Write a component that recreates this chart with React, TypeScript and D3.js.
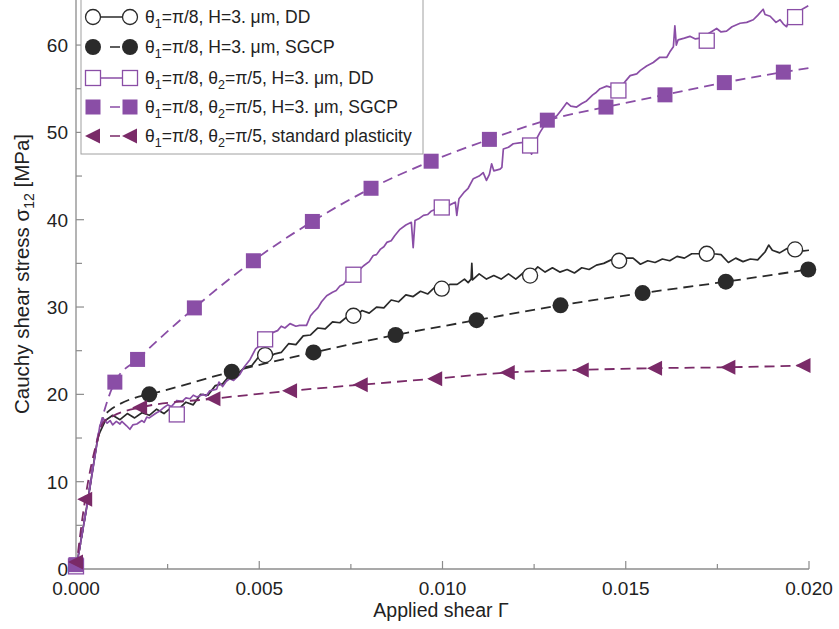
import React, { useEffect } from 'react';
import * as d3 from 'd3';

type Pt = [number, number];

// applied shear vs cauchy shear stress (MPa)
const ddTheta1: Pt[] = [
  [0, 0], [0.0003, 7.3], [0.0006, 15.2], [0.0008, 17.0], [0.001, 17.6], [0.0012, 17.1], [0.0014, 17.8],
  [0.0016, 17.3], [0.0018, 17.9], [0.002, 17.6], [0.0022, 18.3], [0.0024, 17.8], [0.0026, 18.5],
  [0.0028, 18.3], [0.003, 19.1], [0.0032, 18.8], [0.0034, 20.0], [0.0036, 19.9], [0.0038, 21.0],
  [0.004, 21.2], [0.0042, 22.2], [0.0044, 22.3], [0.0046, 23.1], [0.0048, 23.3], [0.005, 24.4],
  [0.0052, 24.0], [0.0054, 24.6], [0.0056, 24.8], [0.0058, 25.8], [0.006, 25.7], [0.0062, 26.7],
  [0.0064, 26.8], [0.0066, 27.6], [0.0068, 27.5], [0.007, 28.3], [0.0072, 28.2], [0.0074, 28.9],
  [0.0076, 28.8], [0.0078, 29.6], [0.008, 29.3], [0.0082, 30.0], [0.0084, 29.9], [0.0086, 30.8],
  [0.0088, 30.6], [0.009, 31.4], [0.0092, 31.2], [0.0094, 31.8], [0.0096, 31.5], [0.0098, 32.3],
  [0.01, 32.0], [0.0102, 32.6], [0.0104, 32.6], [0.0106, 33.2], [0.0107, 32.8], [0.01078, 33.2],
  [0.0108, 35.0], [0.01082, 33.1], [0.011, 33.8], [0.0112, 33.2], [0.0114, 33.6], [0.0116, 33.2],
  [0.0118, 33.8], [0.012, 33.2], [0.0122, 33.9], [0.0124, 33.7], [0.0126, 34.6], [0.0128, 34.0],
  [0.013, 34.5], [0.0132, 34.0], [0.0134, 34.3], [0.0136, 33.9], [0.0138, 34.5], [0.014, 34.3],
  [0.0142, 34.8], [0.0144, 35.0], [0.0146, 35.4], [0.0148, 35.3], [0.015, 35.6], [0.0152, 35.6],
  [0.0154, 34.9], [0.0156, 35.3], [0.0158, 35.1], [0.016, 35.5], [0.0162, 35.3], [0.0164, 35.8],
  [0.0166, 35.6], [0.0168, 36.1], [0.017, 36.1], [0.0172, 36.4], [0.0174, 36.1], [0.0176, 36.0],
  [0.0178, 35.1], [0.018, 35.6], [0.0182, 35.2], [0.0184, 35.5], [0.0186, 35.4], [0.0188, 36.3],
  [0.0189, 37.1], [0.019, 36.5], [0.0192, 36.2], [0.0194, 36.7], [0.0196, 36.9], [0.0198, 36.4],
  [0.02, 36.5],
];
const ddTheta1Marks: Pt[] = [
  [0.00516, 24.5], [0.00757, 29.0], [0.00998, 32.1], [0.01239, 33.6], [0.01482, 35.3], [0.01721, 36.1], [0.01962, 36.6],
];

const sgcpTheta1Start: Pt[] = [[0, 0], [0.0003, 7.3], [0.0006, 15.0], [0.00075, 17.4], [0.0009, 18.1], [0.0012, 18.9], [0.0016, 19.6]];
const sgcpTheta1Marks: Pt[] = [
  [0.002, 20.0], [0.00425, 22.6], [0.00648, 24.8], [0.00872, 26.8], [0.01093, 28.5], [0.01322, 30.2],
  [0.01546, 31.6], [0.01773, 32.9], [0.01998, 34.3],
];

const ddTheta2: Pt[] = [
  [0, 0], [0.0003, 7.2], [0.00065, 16.4], [0.00075, 17.2], [0.00085, 16.7], [0.00093, 17.0], [0.001, 16.5],
  [0.0011, 16.9], [0.0012, 16.6], [0.00125, 16.9], [0.00138, 16.4], [0.00147, 16.0], [0.00155, 16.5],
  [0.00166, 16.6], [0.0018, 17.0], [0.00186, 16.8], [0.00193, 17.4], [0.002, 17.3], [0.0021, 17.6],
  [0.0022, 17.9], [0.00229, 18.1], [0.0024, 18.5], [0.0025, 18.8], [0.0026, 18.6], [0.00275, 19.3],
  [0.0029, 19.2], [0.003, 19.6], [0.00311, 19.5], [0.0032, 19.9], [0.0033, 19.7], [0.00347, 20.0],
  [0.00355, 19.8], [0.00365, 20.4], [0.00384, 20.6], [0.0039, 21.4], [0.004, 20.9], [0.0041, 21.5],
  [0.0042, 21.8], [0.0043, 21.6], [0.00447, 22.3], [0.0046, 23.2], [0.00475, 24.0], [0.0049, 25.2],
  [0.00502, 25.6], [0.0052, 26.4], [0.00538, 27.1], [0.0055, 27.3], [0.0056, 27.8], [0.0057, 27.6],
  [0.00584, 28.1], [0.006, 27.8], [0.0061, 27.9], [0.00629, 27.9], [0.0064, 29.0], [0.00648, 29.4],
  [0.0066, 29.9], [0.0067, 30.6], [0.00684, 31.3], [0.007, 31.7], [0.0071, 31.9], [0.0072, 32.4],
  [0.0073, 32.6], [0.0074, 33.2], [0.00757, 33.8], [0.0077, 34.1], [0.00784, 34.7], [0.008, 35.2],
  [0.00811, 35.9], [0.0082, 36.0], [0.0083, 36.6], [0.0084, 36.9], [0.00848, 37.4], [0.0086, 37.6],
  [0.0087, 38.2], [0.00884, 38.9], [0.009, 39.4], [0.00915, 39.7], [0.0092, 36.8], [0.00925, 39.9],
  [0.00935, 40.1], [0.00948, 40.5], [0.0096, 40.6], [0.0097, 41.0], [0.00993, 41.4], [0.0101, 41.5],
  [0.0102, 41.7], [0.01035, 42.0], [0.01039, 40.5], [0.01045, 42.4], [0.0106, 43.2], [0.0107, 43.6],
  [0.01084, 44.7], [0.011, 45.0], [0.01111, 45.4], [0.0112, 44.5], [0.01128, 45.2], [0.01134, 46.4],
  [0.0114, 45.6], [0.01157, 45.8], [0.01162, 46.0], [0.01166, 48.1], [0.0118, 48.3], [0.01193, 48.7],
  [0.0121, 48.8], [0.0123, 48.9], [0.01243, 47.5], [0.01252, 48.9], [0.01266, 50.0], [0.01284, 51.2],
  [0.013, 51.6], [0.01312, 51.9], [0.01325, 52.6], [0.01339, 53.4], [0.0135, 53.0], [0.01366, 52.9],
  [0.0138, 53.3], [0.01393, 53.6], [0.0141, 54.3], [0.0142, 54.6], [0.0143, 55.0], [0.01448, 55.3],
  [0.01465, 55.1], [0.01484, 55.0], [0.015, 55.9], [0.01512, 56.5], [0.0153, 56.7], [0.0154, 57.1],
  [0.01557, 57.6], [0.01575, 58.0], [0.01593, 58.6], [0.01612, 58.6], [0.0162, 59.2], [0.0163, 59.8],
  [0.01634, 62.2], [0.01638, 60.0], [0.01643, 60.6], [0.0166, 60.8], [0.01675, 61.0], [0.0169, 60.7],
  [0.01703, 60.8], [0.01725, 61.3], [0.01748, 61.9], [0.0176, 61.5], [0.01775, 61.6], [0.0179, 62.1],
  [0.01812, 62.5], [0.0183, 62.6], [0.01848, 62.9], [0.0186, 63.4], [0.01875, 64.1], [0.0188, 63.5],
  [0.01894, 63.3], [0.0191, 62.6], [0.01921, 62.9], [0.0193, 62.4], [0.01939, 62.1], [0.01946, 63.0],
  [0.01957, 63.4], [0.0197, 63.8], [0.01985, 64.2], [0.01998, 64.5],
];
const ddTheta2Marks: Pt[] = [
  [0, 0.3], [0.00275, 17.7], [0.00516, 26.3], [0.00757, 33.7], [0.00998, 41.4], [0.01239, 48.5],
  [0.0148, 54.8], [0.01721, 60.5], [0.01962, 63.2],
];

const sgcpTheta2Start: Pt[] = [[0, 0], [0.0003, 7.5], [0.0006, 15.3], [0.00075, 17.8], [0.0009, 19.8]];
const sgcpTheta2Marks: Pt[] = [
  [0.00106, 21.4], [0.00168, 24.0], [0.00323, 29.9], [0.00484, 35.3], [0.00645, 39.8], [0.00805, 43.6],
  [0.00969, 46.7], [0.01128, 49.2], [0.01286, 51.4], [0.01446, 52.9], [0.01607, 54.3], [0.01769, 55.7],
  [0.0193, 56.9],
];
const sgcpTheta2End: Pt[] = [[0.02003, 57.4]];

const stdStart: Pt[] = [[0, 0]];
const stdMarks: Pt[] = [
  [0, 0.8], [0.00025, 8.0], [0.00175, 18.5], [0.00375, 19.5], [0.00584, 20.4], [0.00777, 21.1],
  [0.0098, 21.8], [0.01178, 22.5], [0.0138, 22.8], [0.0158, 23.0], [0.0178, 23.1], [0.01985, 23.3],
];
const stdKnee: Pt[] = [[0.0006, 15.0], [0.00075, 16.8], [0.001, 17.5]];

const xTicks = [0, 0.0025, 0.005, 0.0075, 0.01, 0.0125, 0.015, 0.0175, 0.02];
const yTicks = [0, 5, 10, 15, 20, 25, 30, 35, 40, 45, 50, 55, 60];

// "_" marks a one-character subscript
const legendLabels = [
  'θ_1=π/8, H=3. μm, DD',
  'θ_1=π/8, H=3. μm, SGCP',
  'θ_1=π/8, θ_2=π/5, H=3. μm, DD',
  'θ_1=π/8, θ_2=π/5, H=3. μm, SGCP',
  'θ_1=π/8, θ_2=π/5, standard plasticity',
];

const PURPLE = '#8a4ea6';
const PLUM = '#7a2a68';
const DARK = '#2a2a2a';
const FONT = '"Liberation Sans", Arial, Helvetica, sans-serif';

const Marker = ({ kind, cx, cy, color }: { kind: string; cx: number; cy: number; color: string }) => {
  if (kind === 'openCircle') return <circle cx={cx} cy={cy} r={7.5} fill="white" stroke={color} strokeWidth={1.3} />;
  if (kind === 'circle') return <circle cx={cx} cy={cy} r={8} fill={color} />;
  if (kind === 'openSquare') return <rect x={cx - 7.5} y={cy - 7.5} width={15} height={15} fill="white" stroke={color} strokeWidth={1.3} />;
  if (kind === 'square') return <rect x={cx - 7.5} y={cy - 7.5} width={15} height={15} fill={color} />;
  return <path d={`M${cx - 8},${cy}L${cx + 7},${cy - 7.5}L${cx + 7},${cy + 7.5}Z`} fill={color} />;
};

const Label = ({ text, x, y }: { text: string; x: number; y: number }) => {
  const parts = text.split('_');
  return (
    <text x={x} y={y} fontSize={17.5} fontFamily={FONT} fill="#222">
      {parts.map((p, i) =>
        i === 0 ? (
          <tspan key={i}>{p}</tspan>
        ) : (
          <React.Fragment key={i}>
            <tspan fontSize={12.5} dy={5}>{p[0]}</tspan>
            <tspan dy={-5}>{p.slice(1)}</tspan>
          </React.Fragment>
        )
      )}
    </text>
  );
};

const App = () => {
  useEffect(() => {
    document.body.style.margin = '0';
  }, []);

  const width = 839;
  const height = 629;
  const x = d3.scaleLinear().domain([0, 0.02]).range([76, 809]);
  const y = d3.scaleLinear().domain([0, 65]).range([569, 1.4]);
  const line = d3.line<Pt>().x(d => x(d[0])).y(d => y(d[1]));
  const smooth = d3.line<Pt>().x(d => x(d[0])).y(d => y(d[1])).curve(d3.curveMonotoneX);

  const series = [
    { line: line(ddTheta1), marks: ddTheta1Marks, kind: 'openCircle', color: DARK, dash: null, lw: 1.7 },
    { line: smooth([...sgcpTheta1Start, ...sgcpTheta1Marks]), marks: sgcpTheta1Marks, kind: 'circle', color: DARK, dash: '10,6', lw: 1.8 },
    { line: line(ddTheta2), marks: ddTheta2Marks, kind: 'openSquare', color: PURPLE, dash: null, lw: 1.7 },
    { line: smooth([...sgcpTheta2Start, ...sgcpTheta2Marks, ...sgcpTheta2End]), marks: sgcpTheta2Marks.concat([[0, 0.5]]), kind: 'square', color: PURPLE, dash: '10,6', lw: 1.8 },
    { line: smooth([...stdStart, ...stdMarks.slice(1, 2), ...stdKnee, ...stdMarks.slice(2)]), marks: stdMarks, kind: 'triangle', color: PLUM, dash: '10,6', lw: 1.8 },
  ];

  const axisColor = '#8c8c8c';
  const legendRows = [17, 47, 78, 107, 136];

  return (
    <svg width={width} height={height} style={{ display: 'block', background: 'white' }}>
      {/* axes */}
      <line x1={x(0)} x2={x(0)} y1={y(0)} y2={0} stroke={axisColor} strokeWidth={1.3} />
      <line x1={x(0)} x2={x(0.02)} y1={y(0)} y2={y(0)} stroke={axisColor} strokeWidth={1.3} />
      {xTicks.map((t, i) => (
        <g key={t}>
          <line x1={x(t)} x2={x(t)} y1={y(0)} y2={y(0) - (i % 2 === 0 ? 8 : 5)} stroke={axisColor} strokeWidth={1.2} />
          {i % 2 === 0 && (
            <text x={x(t)} y={595} textAnchor="middle" fontSize={19} fontFamily={FONT} fill="#222">
              {t.toFixed(3)}
            </text>
          )}
        </g>
      ))}
      {yTicks.map((t, i) => (
        <g key={t}>
          <line x1={x(0)} x2={x(0) + (i % 2 === 0 ? 8 : 6)} y1={y(t)} y2={y(t)} stroke={axisColor} strokeWidth={1.2} />
          {i % 2 === 0 && (
            <text x={68} y={y(t)} dy="0.36em" textAnchor="end" fontSize={19} fontFamily={FONT} fill="#222">
              {t}
            </text>
          )}
        </g>
      ))}
      <text x={441} y={617} textAnchor="middle" fontSize={19.5} fontFamily={FONT} fill="#222">
        Applied shear Γ
      </text>
      <text transform="translate(29,274) rotate(-90)" textAnchor="middle" fontSize={20.5} fontFamily={FONT} fill="#222">
        Cauchy shear stress σ<tspan fontSize={14} dy={5}>12</tspan>
        <tspan dy={-5}> [MPa]</tspan>
      </text>

      {/* curves */}
      {series.map((s, i) => (
        <path key={i} d={s.line || ''} fill="none" stroke={s.color} strokeWidth={s.lw} strokeDasharray={s.dash || undefined} strokeLinejoin="round" />
      ))}
      {series.map((s, i) => (
        <g key={i}>
          {s.marks.map((d, j) => (
            <Marker key={j} kind={s.kind} cx={x(d[0])} cy={y(d[1])} color={s.color} />
          ))}
        </g>
      ))}

      {/* legend */}
      <rect x={81} y={-2} width={342} height={156} fill="white" stroke="#a0a0a0" strokeWidth={1} />
      {series.map((s, i) => (
        <g key={i}>
          <line x1={93} x2={130} y1={legendRows[i]} y2={legendRows[i]} stroke={s.color} strokeWidth={1.6} strokeDasharray={s.dash ? '0,17,10,40' : undefined} />
          <Marker kind={s.kind} cx={93} cy={legendRows[i]} color={s.color} />
          <Marker kind={s.kind} cx={130} cy={legendRows[i]} color={s.color} />
          <Label text={legendLabels[i]} x={145} y={legendRows[i] + 6} />
        </g>
      ))}
    </svg>
  );
};

export default App;
